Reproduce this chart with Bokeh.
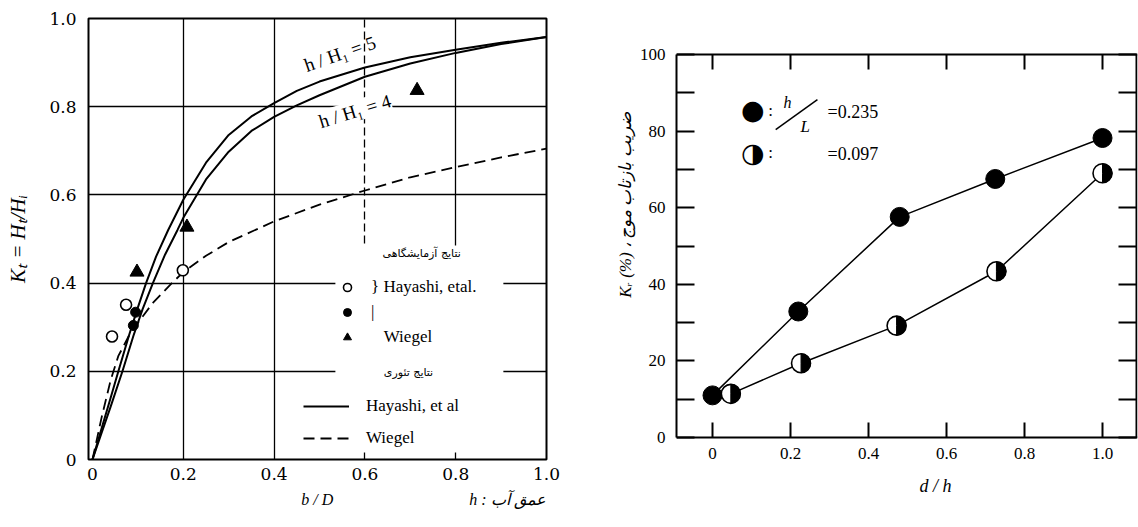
import math
from bokeh.plotting import figure
from bokeh.models import (Range1d, FixedTicker, Grid, Label, Legend, LegendItem,
                          BoxAnnotation, Arrow, LinearAxis, Title)
from bokeh.core.properties import value
from bokeh.layouts import row
from bokeh.embed import file_html
from bokeh.resources import INLINE

# ---------------- left panel data : K_T vs b/D ----------------
kt_ticks = [0, 0.2, 0.4, 0.6, 0.8, 1.0]
kt_tick_labels = ["0", "0.2", "0.4", "0.6", "0.8", "1.0"]

# Hayashi et al. theory, h/H1 = 5
hay5_x = [0, 0.02, 0.04, 0.057, 0.08, 0.1, 0.118, 0.14, 0.167, 0.2, 0.25, 0.3,
          0.35, 0.4, 0.45, 0.5, 0.6, 0.7, 0.8, 0.9, 1.0]
hay5_y = [0, 0.07, 0.14, 0.2, 0.28, 0.345, 0.4, 0.46, 0.521, 0.589, 0.673, 0.736,
          0.778, 0.808, 0.836, 0.857, 0.889, 0.912, 0.929, 0.945, 0.958]
# Hayashi et al. theory, h/H1 = 4
hay4_x = [0, 0.02, 0.04, 0.066, 0.09, 0.11, 0.133, 0.16, 0.187, 0.2, 0.25, 0.3,
          0.35, 0.4, 0.45, 0.5, 0.6, 0.7, 0.8, 0.9, 1.0]
hay4_y = [0, 0.06, 0.12, 0.2, 0.28, 0.34, 0.4, 0.465, 0.52, 0.548, 0.635, 0.698,
          0.745, 0.777, 0.803, 0.826, 0.868, 0.898, 0.922, 0.942, 0.958]
# Wiegel theory (dashed)
wieg_x = [0, 0.02, 0.04, 0.057, 0.08, 0.1, 0.133, 0.17, 0.2, 0.25, 0.3, 0.4,
          0.5, 0.6, 0.7, 0.8, 0.9, 1.0]
wieg_y = [0, 0.095, 0.18, 0.235, 0.28, 0.31, 0.355, 0.395, 0.425, 0.462, 0.493,
          0.54, 0.578, 0.61, 0.64, 0.663, 0.685, 0.705]
# experimental points
hay_open_x = [0.043, 0.074, 0.199]
hay_open_y = [0.279, 0.351, 0.429]
hay_fill_x = [0.09, 0.095]
hay_fill_y = [0.304, 0.334]
wieg_pts_x = [0.098, 0.208, 0.715]
wieg_pts_y = [0.425, 0.527, 0.837]

# ---------------- right panel data : K_R vs d/h ----------------
kr_x_ticks = [0, 0.2, 0.4, 0.6, 0.8, 1.0]
kr_x_labels = ["0", "0.2", "0.4", "0.6", "0.8", "1.0"]
kr_y_ticks = [0, 20, 40, 60, 80, 100]
kr_y_minor = [10, 30, 50, 70, 90]
kr_y_labels = ["0", "20", "40", "60", "80", "100"]
s235_x = [0.0, 0.22, 0.48, 0.725, 1.0]      # h/L = 0.235
s235_y = [11.0, 32.9, 57.6, 67.5, 78.2]
s097_x = [0.047, 0.227, 0.472, 0.728, 1.0]  # h/L = 0.097
s097_y = [11.4, 19.4, 29.2, 43.4, 69.0]

SERIF = "Liberation Serif"
TICKFONT = "DejaVu Serif"
ARAB = "DejaVu Sans"
NB = "\u00a0"
BLACK = "black"
H = 527

# =============== LEFT FIGURE =================
p1 = figure(width=568, height=H, x_range=Range1d(-0.0088, 1.0), y_range=Range1d(0, 1.0),
            output_backend="svg", toolbar_location=None,
            min_border_left=88, min_border_right=22, min_border_top=18,
            min_border_bottom=H - 459)
p1.outline_line_color = BLACK
p1.outline_line_width = 2
p1.outline_line_alpha = 1

xg = p1.xgrid[0]
yg = p1.ygrid[0]
xg.ticker = FixedTicker(ticks=[0.2, 0.4, 0.8])
yg.ticker = FixedTicker(ticks=[0.2, 0.4, 0.6, 0.8])
for g in (xg, yg):
    g.grid_line_color = BLACK
    g.grid_line_width = 1.3
    g.grid_line_alpha = 1
g6 = Grid(dimension=0, ticker=FixedTicker(ticks=[0.6]), grid_line_color=BLACK,
          grid_line_width=1.3, grid_line_dash="8 4")
p1.add_layout(g6)

for ax in (p1.xaxis[0], p1.yaxis[0]):
    ax.ticker = FixedTicker(ticks=kt_ticks)
    ax.major_label_overrides = dict(zip(kt_ticks, kt_tick_labels))
    ax.axis_line_color = None
    ax.major_tick_in = 0
    ax.major_tick_out = 0
    ax.minor_tick_in = 0
    ax.minor_tick_out = 0
    ax.major_label_text_font = TICKFONT
    ax.major_label_text_font_size = "17px"
    ax.major_label_text_color = BLACK
    ax.axis_label_text_font = SERIF
    ax.axis_label_text_font_style = "italic"
    ax.axis_label_text_color = BLACK
p1.yaxis[0].major_label_standoff = 12
p1.xaxis[0].major_label_standoff = 8
p1.yaxis[0].axis_label = "Kₜ = Hₜ/Hᵢ"
p1.yaxis[0].axis_label_text_font_size = "21px"
p1.yaxis[0].axis_label_standoff = 16
# "b / D" centred under the frame, "h : عمق آب" at the right end of the same line
p1.xaxis[0].axis_label = NB * 53 + "b / D" + NB * 34 + "\u202ah : عمق آب\u202c"
p1.xaxis[0].axis_label_text_font_size = "16px"
p1.xaxis[0].axis_label_standoff = 8

# white area behind the legend
boxA = BoxAnnotation(left=0.535, right=0.905, bottom=0.152, top=0.485,
                     fill_color="white", fill_alpha=1, line_color=None, level="glyph")
boxB = BoxAnnotation(left=0.458, right=0.905, bottom=0.016, top=0.153,
                     fill_color="white", fill_alpha=1, line_color=None, level="glyph")
p1.add_layout(boxA)
p1.add_layout(boxB)

r_h5 = p1.line(hay5_x, hay5_y, line_color=BLACK, line_width=2)
r_h4 = p1.line(hay4_x, hay4_y, line_color=BLACK, line_width=2)
r_w = p1.line(wieg_x, wieg_y, line_color=BLACK, line_width=1.8, line_dash="11 6")
r_open = p1.scatter(hay_open_x, hay_open_y, marker="circle", size=11, fill_color="white",
                    line_color=BLACK, line_width=1.6)
r_fill = p1.scatter(hay_fill_x, hay_fill_y, marker="circle", size=10, fill_color=BLACK,
                    line_color=BLACK)
r_tri = p1.scatter(wieg_pts_x, wieg_pts_y, marker="triangle", size=14, fill_color=BLACK,
                   line_color=BLACK)

leg1 = Legend(items=[LegendItem(label=value("} Hayashi, etal."), renderers=[r_open]),
                     LegendItem(label=value("|"), renderers=[r_fill]),
                     LegendItem(label=value(NB * 3 + "Wiegel"), renderers=[r_tri])],
              location=(249, 112), glyph_width=20, glyph_height=20, label_height=20,
              spacing=5, padding=4, margin=0, label_standoff=14,
              background_fill_alpha=0, border_line_color=None,
              label_text_font=SERIF, label_text_font_size="17px", label_text_color=BLACK)
leg2 = Legend(items=[LegendItem(label=value("Hayashi, et al"), renderers=[r_h5]),
                     LegendItem(label=value("Wiegel"), renderers=[r_w])],
              location=(215, 11), glyph_width=46, glyph_height=20, label_height=20,
              spacing=12, padding=4, margin=0, label_standoff=17,
              background_fill_alpha=0, border_line_color=None,
              label_text_font=SERIF, label_text_font_size="17px", label_text_color=BLACK)
p1.add_layout(leg1)
p1.add_layout(leg2)

p1.add_layout(Label(x=0.725, y=0.467, text="نتایج آزمایشگاهی", text_align="center",
                    text_baseline="middle", text_font=ARAB, text_font_size="11px",
                    text_color=BLACK))
p1.add_layout(Label(x=0.696, y=0.197, text="نتایج تئوری", text_align="center",
                    text_baseline="middle", text_font=ARAB, text_font_size="11px",
                    text_color=BLACK))
p1.add_layout(Label(x=0.545, y=0.92, text="h / H₁ = 5", angle=19, angle_units="deg",
                    text_align="center", text_baseline="middle", text_font=SERIF,
                    text_font_size="19px", text_color=BLACK))
p1.add_layout(Label(x=0.578, y=0.79, text="h / H₁ = 4", angle=17, angle_units="deg",
                    text_align="center", text_baseline="middle", text_font=SERIF,
                    text_font_size="19px", text_color=BLACK, background_fill_color="white"))

# =============== RIGHT FIGURE =================
# frame shares the left panel's vertical extent; the K_R box is drawn by bounded /
# fixed-location axes
X_END = 1.0897
p2 = figure(width=570, height=H, x_range=Range1d(-0.0923, X_END),
            y_range=Range1d(-5.744, 109.4),
            output_backend="svg", toolbar_location=None,
            min_border_left=108, min_border_right=1, min_border_top=18,
            min_border_bottom=H - 459)
p2.grid.visible = False
p2.outline_line_color = None

axb = p2.xaxis[0]
axl = p2.yaxis[0]
axb.ticker = FixedTicker(ticks=kr_x_ticks)
axb.major_label_overrides = dict(zip(kr_x_ticks, kr_x_labels))
axb.fixed_location = 0
axl.ticker = FixedTicker(ticks=kr_y_ticks, minor_ticks=kr_y_minor)
axl.major_label_overrides = dict(zip(kr_y_ticks, kr_y_labels))
axl.bounds = (0, 100)
axt = LinearAxis(ticker=FixedTicker(ticks=kr_x_ticks), fixed_location=100)
axr = LinearAxis(ticker=FixedTicker(ticks=kr_y_ticks, minor_ticks=kr_y_minor),
                 bounds=(0, 100), fixed_location=X_END - 0.002)
p2.add_layout(axt, "above")
p2.add_layout(axr, "right")
for ax in (axb, axt):
    ax.major_tick_in = 15
    ax.major_tick_out = 0
    ax.minor_tick_in = 0
    ax.minor_tick_out = 0
for ax in (axl, axr):
    ax.major_tick_in = 18
    ax.major_tick_out = 0
    ax.minor_tick_in = 18
    ax.minor_tick_out = 0
for ax in (axb, axt, axl, axr):
    ax.axis_line_color = BLACK
    ax.axis_line_width = 2
    ax.major_tick_line_color = BLACK
    ax.major_tick_line_width = 2
    ax.minor_tick_line_color = BLACK
    ax.minor_tick_line_width = 2
    ax.major_label_text_font = SERIF
    ax.major_label_text_font_size = "17px"
    ax.major_label_text_color = BLACK
    ax.axis_label_text_color = BLACK
    ax.axis_label_text_font = SERIF
axt.major_label_overrides = {t: "" for t in kr_x_ticks}
axr.major_label_overrides = {t: "" for t in kr_y_ticks}
for ax in (axt, axr):
    ax.major_label_text_font_size = "1px"
    ax.major_label_standoff = 0
axb.major_label_standoff = 10
axl.major_label_standoff = 11
axl.axis_label = NB * 16 + "Kᵣ (%) ، ضریب بازتاب موج"
axl.axis_label_text_font_size = "17px"
axl.axis_label_standoff = 2

# x title "d / h" (below the box, right of centre)
p2.add_layout(Title(text="d / h", align="left", offset=243, standoff=28,
                    text_font=SERIF, text_font_style="italic", text_font_size="18px",
                    text_color=BLACK), "below")

p2.line(s235_x, s235_y, line_color=BLACK, line_width=1.5)
p2.line(s097_x, s097_y, line_color=BLACK, line_width=1.5)
p2.scatter(s235_x, s235_y, marker="circle", size=19, fill_color=BLACK, line_color=BLACK)
p2.scatter(s097_x, s097_y, marker="circle", size=19, fill_color="white", line_color=BLACK,
           line_width=1.6)
p2.wedge(x=s097_x, y=s097_y, radius=9.5, radius_units="screen", start_angle=-math.pi / 2,
         end_angle=math.pi / 2, fill_color=BLACK, line_color=BLACK)

# legend (symbols as text)
p2.add_layout(Label(x=0.103, y=85.6, text="●", text_align="center", text_baseline="middle",
                    text_font="DejaVu Sans", text_font_size="27px", text_color=BLACK))
p2.add_layout(Label(x=0.103, y=74.3, text="◑", text_align="center", text_baseline="middle",
                    text_font="DejaVu Sans", text_font_size="27px", text_color=BLACK))
for yy in (85.3, 74.3):
    p2.add_layout(Label(x=0.149, y=yy, text=":", text_align="center", text_baseline="middle",
                        text_font=SERIF, text_font_size="17px", text_color=BLACK))
p2.add_layout(Label(x=0.192, y=87.4, text="h", text_align="center", text_baseline="middle",
                    text_font=SERIF, text_font_style="italic", text_font_size="16px",
                    text_color=BLACK))
p2.add_layout(Label(x=0.238, y=81.2, text="L", text_align="center", text_baseline="middle",
                    text_font=SERIF, text_font_style="italic", text_font_size="17px",
                    text_color=BLACK))
p2.add_layout(Arrow(end=None, x_start=0.162, y_start=80.4, x_end=0.269, y_end=88.2,
                    line_color=BLACK, line_width=1.5))
p2.add_layout(Label(x=0.295, y=85.1, text="=0.235", text_align="left", text_baseline="middle",
                    text_font=SERIF, text_font_size="18px", text_color=BLACK))
p2.add_layout(Label(x=0.295, y=74.1, text="=0.097", text_align="left", text_baseline="middle",
                    text_font=SERIF, text_font_size="18px", text_color=BLACK))

layout = row(p1, p2)
open("out.html", "w").write(file_html(layout, INLINE))
